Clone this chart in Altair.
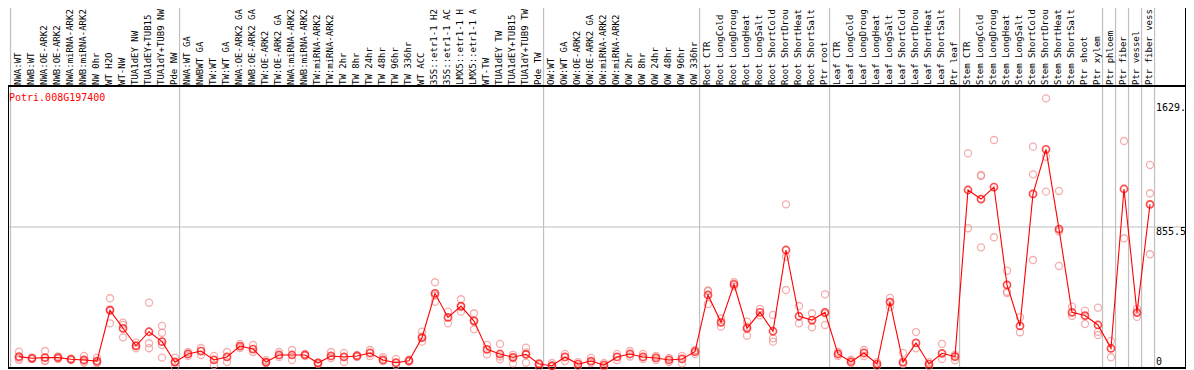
import altair as alt
import pandas as pd

labels = [
    "NWA:WT", "NWB:WT", "NWA:OE-ARK2", "NWB:OE-ARK2", "NWA:miRNA-ARK2", "NWB:miRNA-ARK2",
    "NW 0hr", "WT H2O", "WT-NW", "TUA1dEY NW", "TUA1dEY+TUB15", "TUA1dY+TUB9 NW", "Pde NW",
    "NWA:WT GA", "NWBWT GA", "TW:WT", "TW:WT GA", "NWA:OE-ARK2 GA", "NWB:OE-ARK2 GA",
    "TW:OE-ARK2", "TW:OE-ARK2 GA", "NWA:miRNA-ARK2", "NWB:miRNA-ARK2", "TW:miRNA-ARK2",
    "TW:miRNA-ARK2", "TW 2hr", "TW 8hr", "TW 24hr", "TW 48hr", "TW 96hr", "TW 336hr",
    "WT ACC", "35S::etr1-1 H2", "35S::etr1-1 AC", "LMX5::etr1-1 H", "LMX5::etr1-1 A",
    "WT-TW", "TUA1dEY TW", "TUA1dEY+TUB15", "TUA1dY+TUB9 TW", "Pde TW",
    "OW:WT", "OW:WT GA", "OW:OE-ARK2", "OW:OE-ARK2 GA", "OW:miRNA-ARK2", "OW:miRNA-ARK2",
    "OW 2hr", "OW 8hr", "OW 24hr", "OW 48hr", "OW 96hr", "OW 336hr",
    "Root CTR", "Root LongCold", "Root LongDroug", "Root LongHeat", "Root LongSalt",
    "Root ShortCold", "Root ShortDrou", "Root ShortHeat", "Root ShortSalt", "Ptr root",
    "Leaf CTR", "Leaf LongCold", "Leaf LongDroug", "Leaf LongHeat", "Leaf LongSalt",
    "Leaf ShortCold", "Leaf ShortDrou", "Leaf ShortHeat", "Leaf ShortSalt", "Ptr leaf",
    "Stem CTR", "Stem LongCold", "Stem LongDroug", "Stem LongHeat", "Stem LongSalt",
    "Stem ShortCold", "Stem ShortDrou", "Stem ShortHeat", "Stem ShortSalt", "Ptr shoot",
    "Ptr xylem", "Ptr phloem", "Ptr fiber", "Ptr vessel", "Ptr fiber vess",
]

means = [
    69, 59, 63, 63, 53, 49, 42, 350, 241, 135, 220, 160, 35,
    85, 103, 49, 67, 133, 115, 36, 79, 79, 79, 30, 73, 67, 73, 91, 49, 32, 44,
    184, 453, 307, 376, 285, 113, 85, 65, 83, 24,
    14, 67, 24, 42, 18, 67, 85, 67, 61, 49, 55, 99,
    443, 277, 508, 241, 338, 223, 716, 314, 291, 338,
    85, 38, 91, 24, 400, 36, 152, 24, 89, 69,
    1080, 1025, 1098, 504, 255, 1056, 1327, 843, 338, 318, 261,
    119, 1086, 336, 993,
]

reps = [
    [99, 49, 59], [64, 54], [103, 42, 45], [70, 55], [58, 48], [73, 32, 42], [63, 30, 33],
    [423, 271, 356], [275, 186, 262], [154, 119, 132], [396, 150, 120], [255, 214, 140, 63], [63, 4, 38],
    [97, 73], [121, 79], [73, 18], [97, 36], [146, 121], [140, 97], [48, 30], [97, 67],
    [109, 48], [85, 73], [36, 24], [97, 61], [91, 36], [79, 67], [109, 73], [65, 42],
    [55, 18], [50, 38], [220, 160, 190], [520, 402, 440], [342, 271], [417, 342, 370],
    [332, 235, 290], [140, 83], [146, 53, 70], [80, 28, 60], [123, 32, 95], [8, 30],
    [30, 8], [85, 42], [36, 12], [61, 30], [30, 8], [85, 48], [103, 70], [85, 55], [73, 48],
    [61, 36], [73, 28], [109, 85],
    [467, 388, 470], [251, 300], [520, 495], [281, 196, 250], [358, 320], [322, 180, 160],
    [993, 675, 473], [376, 271], [332, 247], [447, 261, 330],
    [97, 73], [50, 30], [109, 73], [36, 12], [425, 370], [91, 24], [218, 120], [36, 12],
    [146, 55], [47, 80],
    [1303, 848], [1171, 1165, 732], [1383, 793], [590, 463, 455], [308, 217], [1343, 1175, 655],
    [1636, 1282, 1070], [1074, 830, 619], [372, 316], [348, 267], [366, 220, 200],
    [164, 65], [1377, 787], [360, 310], [1232, 1060, 690],
]

group_bounds = [0, 13, 41, 53, 63, 73, 84, 85, 86, 87, 88]
y_max = 1711
y_mid = 855.5
y_tick_text = ["1629.", "855.5", "0"]
title_text = "Potri.008G197400"

mean_df = pd.DataFrame({"i": list(range(len(labels))), "label": labels, "value": means})
rep_df = pd.DataFrame(
    [(i, v) for i, vs in enumerate(reps) for v in vs], columns=["i", "value"]
)
sep_df = pd.DataFrame({"b": group_bounds})

FONT = "DejaVu Sans Mono"
xs = alt.Scale(domain=[0, 87], range=[19, 1150])
ys = alt.Scale(domain=[0, y_max], range=[368, 86])
GRAY = "#c0c0c0"
RIGHT = 1186

seps = (
    alt.Chart(sep_df)
    .transform_calculate(xb="datum.b - 0.65")
    .mark_rule(color=GRAY, strokeWidth=1.2)
    .encode(x=alt.X("xb:Q", scale=xs, axis=None), y=alt.value(0), y2=alt.value(368))
)

mid_grid = (
    alt.Chart(pd.DataFrame({"v": [y_mid]}))
    .mark_rule(color=GRAY, strokeWidth=1.2)
    .encode(y=alt.Y("v:Q", scale=ys, axis=None), x=alt.value(2), x2=alt.value(RIGHT))
)

frame_h = (
    alt.Chart(pd.DataFrame({"v": [0, y_max]}))
    .mark_rule(color="black", strokeWidth=2)
    .encode(y=alt.Y("v:Q", scale=ys, axis=None), x=alt.value(2), x2=alt.value(RIGHT))
)
frame_left = alt.Chart(pd.DataFrame({"v": [0]})).mark_rule(color="black", strokeWidth=2).encode(
    x=alt.value(8), y=alt.value(86), y2=alt.value(368)
)
frame_right = alt.Chart(pd.DataFrame({"v": [0]})).mark_rule(color="black", strokeWidth=2).encode(
    x=alt.value(RIGHT), y=alt.value(0), y2=alt.value(368)
)

rep_pts = (
    alt.Chart(rep_df)
    .mark_point(shape="circle", filled=False, color="#f08c8c", size=50, strokeWidth=1.3)
    .encode(x=alt.X("i:Q", scale=xs, axis=None), y=alt.Y("value:Q", scale=ys, axis=None))
)

line = (
    alt.Chart(mean_df)
    .mark_line(color="red", strokeWidth=1.1)
    .encode(x=alt.X("i:Q", scale=xs, axis=None), y=alt.Y("value:Q", scale=ys, axis=None))
)

mean_pts = (
    alt.Chart(mean_df)
    .mark_point(shape="circle", filled=False, color="red", size=50, strokeWidth=1.7)
    .encode(x=alt.X("i:Q", scale=xs, axis=None), y=alt.Y("value:Q", scale=ys, axis=None))
)

label_txt = (
    alt.Chart(mean_df)
    .mark_text(angle=270, align="left", baseline="alphabetic", dy=2, font=FONT, fontSize=9, color="black")
    .encode(x=alt.X("i:Q", scale=xs, axis=None), y=alt.value(85), text="label:N")
)

title_mark = (
    alt.Chart(pd.DataFrame({"t": [title_text]}))
    .mark_text(align="left", baseline="alphabetic", font=FONT, fontSize=10, color="red")
    .encode(x=alt.value(9), y=alt.value(101), text="t:N")
)

tick_layers = []
for txt, ypix in zip(y_tick_text, [111, 235, 365]):
    tick_layers.append(
        alt.Chart(pd.DataFrame({"t": [txt]}))
        .mark_text(align="left", baseline="alphabetic", font=FONT, fontSize=10, color="black")
        .encode(x=alt.value(1156), y=alt.value(ypix), text="t:N")
    )

chart = (
    alt.layer(
        seps, mid_grid, frame_h, frame_left, frame_right, rep_pts, line, mean_pts,
        label_txt, title_mark, *tick_layers
    )
    .properties(
        width=1194,
        height=370,
        autosize=alt.AutoSizeParams(type="none"),
        padding={"left": -8, "top": -8, "right": -8, "bottom": 0},
    )
    .configure_view(strokeWidth=0)
)

chart.save("out.html", embed_options={"renderer": "svg", "actions": False})
